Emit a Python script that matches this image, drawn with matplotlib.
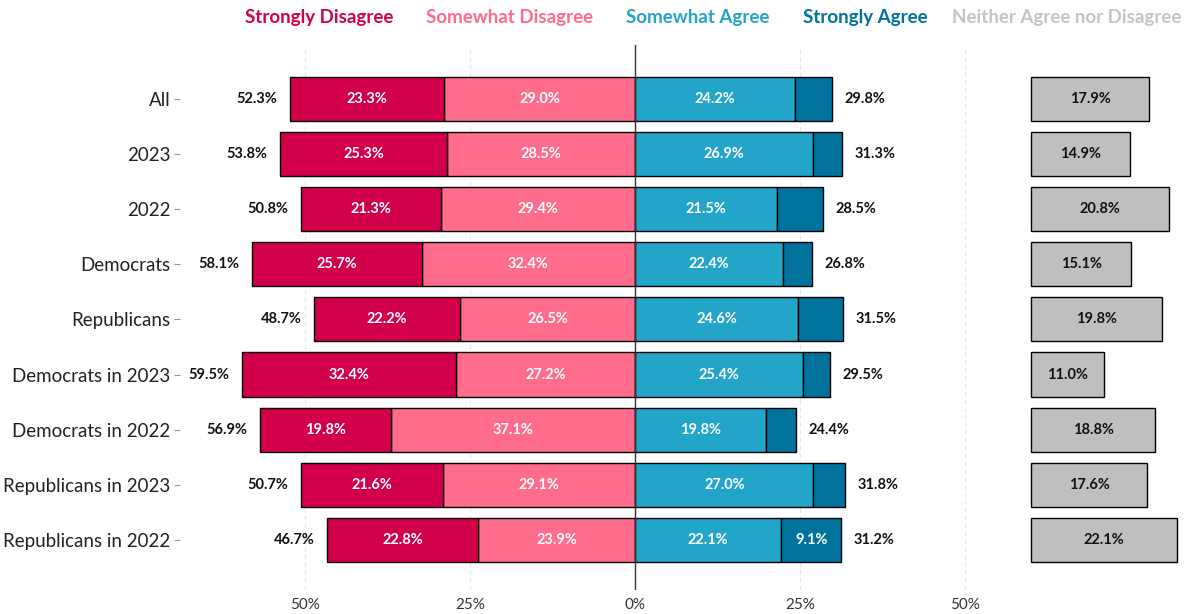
import numpy as np
import matplotlib
matplotlib.use('Agg')
import matplotlib.pyplot as plt

plt.rcParams['font.family'] = ['Lato', 'DejaVu Sans']

# データ
groups = ['All', '2023', '2022', 'Democrats', 'Republicans', 'Democrats in 2023',
          'Democrats in 2022', 'Republicans in 2023', 'Republicans in 2022']
strongly_disagree = [23.3, 25.3, 21.3, 25.7, 22.2, 32.4, 19.8, 21.6, 22.8]
somewhat_disagree = [29.0, 28.5, 29.4, 32.4, 26.5, 27.2, 37.1, 29.1, 23.9]
somewhat_agree = [24.2, 26.9, 21.5, 22.4, 24.6, 25.4, 19.8, 27.0, 22.1]
strongly_agree = [5.6, 4.4, 7.0, 4.4, 6.9, 4.1, 4.6, 4.8, 9.1]
neither = [17.9, 14.9, 20.8, 15.1, 19.8, 11.0, 18.8, 17.6, 22.1]
disagree_total = [52.3, 53.8, 50.8, 58.1, 48.7, 59.5, 56.9, 50.7, 46.7]
agree_total = [29.8, 31.3, 28.5, 26.8, 31.5, 29.5, 24.4, 31.8, 31.2]
x_ticks = [-50, -25, 0, 25, 50]
x_ticklabels = ['50%', '25%', '0%', '25%', '50%']

c_sd = '#D2004B'
c_swd = '#FF6C8C'
c_swa = '#22A5C9'
c_sa = '#00729C'
c_neu = '#BFBFBF'

neutral_offset = 60

fig = plt.figure(figsize=(11.89, 6.14), dpi=100)
ax = fig.add_axes([180 / 1189, 24 / 614, 1007 / 1189, 545 / 614])

y = np.arange(len(groups))
sd = np.array(strongly_disagree)
swd = np.array(somewhat_disagree)
swa = np.array(somewhat_agree)
sa = np.array(strongly_agree)
neu = np.array(neither)

bar_kw = dict(height=0.8, edgecolor='black', linewidth=1.0, zorder=3)
ax.barh(y, -swd, left=0, color=c_swd, **bar_kw)
ax.barh(y, -sd, left=-swd, color=c_sd, **bar_kw)
ax.barh(y, swa, left=0, color=c_swa, **bar_kw)
ax.barh(y, sa, left=swa, color=c_sa, **bar_kw)
ax.barh(y, neu, left=neutral_offset, color=c_neu, **bar_kw)

lab_kw = dict(ha='center', va='center', fontsize=10.5, fontweight='bold', zorder=4)
for i in range(len(groups)):
    ax.text(-swd[i] - sd[i] / 2, y[i], f'{sd[i]:.1f}%', color='white', **lab_kw)
    ax.text(-swd[i] / 2, y[i], f'{swd[i]:.1f}%', color='white', **lab_kw)
    ax.text(swa[i] / 2, y[i], f'{swa[i]:.1f}%', color='white', **lab_kw)
    if sa[i] >= 8:
        ax.text(swa[i] + sa[i] / 2, y[i], f'{sa[i]:.1f}%', color='white', **lab_kw)
    ax.text(neutral_offset + neu[i] / 2, y[i], f'{neu[i]:.1f}%', color='#111111', **lab_kw)
    ax.text(-(swd[i] + sd[i]) - 5, y[i], f'{disagree_total[i]:.1f}%', color='#111111', **lab_kw)
    ax.text(swa[i] + sa[i] + 5, y[i], f'{agree_total[i]:.1f}%', color='#111111', **lab_kw)

# 中央線とグリッド
ax.axvline(0, color='#333333', linewidth=1.0, zorder=5)
for gx in [-50, -25, 25, 50]:
    ax.axvline(gx, color='#e6e6e6', linewidth=0.8, linestyle=(0, (4, 3)), zorder=0)

ax.set_xlim(-69, 83.6)
ax.set_ylim(8.91, -0.98)
ax.set_yticks(y)
ax.set_yticklabels(groups, fontsize=13.5, color='#222222')
ax.set_xticks(x_ticks)
ax.set_xticklabels(x_ticklabels, fontsize=11, color='#333333')
ax.tick_params(axis='y', length=4, color='#999999', pad=3)
ax.tick_params(axis='x', length=0, pad=6)
for s in ax.spines.values():
    s.set_visible(False)

# 凡例（色付きテキスト）
legend_items = [('Strongly Disagree', c_sd, 319),
                ('Somewhat Disagree', c_swd, 510),
                ('Somewhat Agree', c_swa, 698),
                ('Strongly Agree', c_sa, 865),
                ('Neither Agree nor Disagree', '#C4C4C4', 1067)]
for text, col, px in legend_items:
    fig.text(px / 1189, 1 - 18 / 614, text, color=col, fontsize=13.5,
             fontweight='bold', ha='center', va='center')

fig.savefig('out.png', dpi=100, facecolor='white')
